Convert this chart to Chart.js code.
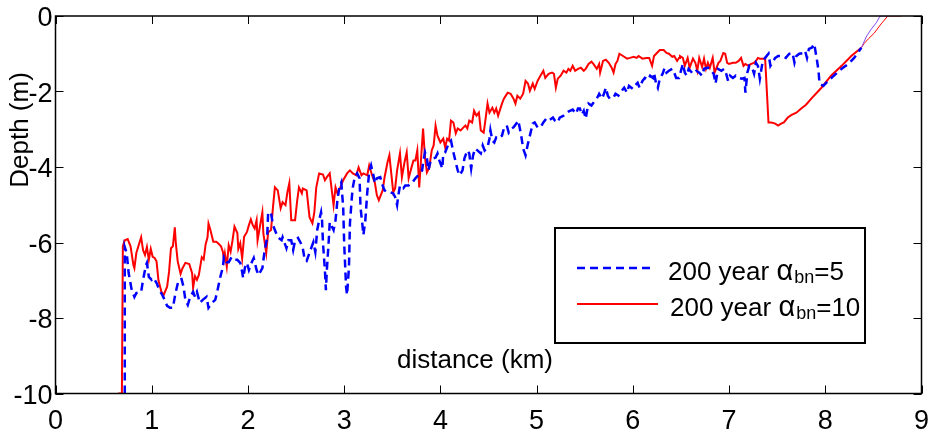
<!DOCTYPE html>
<html>
<head>
<meta charset="utf-8">
<script src="https://cdn.jsdelivr.net/npm/chart.js@4.4.1/dist/chart.umd.min.js"></script>
<style>
  html, body { margin: 0; padding: 0; background: #fff; }
  #wrap { width: 941px; height: 437px; }
</style>
</head>
<body>
<div id="wrap"><canvas id="profile" width="941" height="437"></canvas></div>
<script>
// bed profiles after 200 years, [distance km, depth m]
const redProfile = [[0.65,-10],[0.69,-10],[0.70,-6.1],[0.72,-5.94],[0.75,-5.91],[0.78,-6.1],[0.81,-6.6],[0.82,-6.68],[0.84,-6.28],[0.89,-5.86],[0.91,-6.2],[0.93,-6.33],[0.95,-6.12],[0.97,-6.46],[0.99,-6.17],[1.01,-6.38],[1.03,-6.41],[1.05,-6.5],[1.07,-7.0],[1.10,-7.3],[1.125,-7.39],[1.16,-7.17],[1.18,-6.78],[1.20,-6.15],[1.22,-6.1],[1.24,-5.6],[1.25,-6.0],[1.27,-6.5],[1.30,-6.83],[1.32,-6.68],[1.35,-6.54],[1.39,-6.57],[1.42,-6.81],[1.43,-7.2],[1.45,-6.89],[1.47,-6.99],[1.49,-6.86],[1.52,-6.39],[1.54,-6.45],[1.56,-6.05],[1.58,-5.86],[1.59,-5.5],[1.61,-5.67],[1.64,-5.98],[1.67,-5.98],[1.69,-6.02],[1.72,-6.1],[1.74,-6.25],[1.75,-6.45],[1.76,-6.29],[1.78,-6.64],[1.80,-6.07],[1.82,-6.24],[1.84,-5.94],[1.86,-5.58],[1.89,-5.75],[1.90,-6.17],[1.92,-6.02],[1.94,-6.42],[1.96,-5.85],[1.99,-5.72],[2.01,-5.54],[2.03,-5.39],[2.05,-5.54],[2.07,-5.63],[2.09,-5.41],[2.10,-5.94],[2.15,-5.2],[2.16,-5.75],[2.19,-6.28],[2.21,-5.73],[2.24,-5.67],[2.26,-5.07],[2.28,-4.54],[2.31,-4.62],[2.34,-5.09],[2.36,-4.93],[2.39,-5.01],[2.41,-4.67],[2.43,-4.43],[2.45,-5.41],[2.49,-5.41],[2.51,-4.93],[2.53,-4.54],[2.56,-4.7],[2.57,-4.57],[2.61,-4.62],[2.64,-5.33],[2.67,-5.49],[2.69,-5.2],[2.71,-4.54],[2.74,-4.17],[2.78,-4.2],[2.80,-4.35],[2.82,-4.27],[2.85,-4.17],[2.89,-5.01],[2.91,-4.54],[2.93,-4.7],[2.96,-4.54],[2.99,-4.35],[3.03,-4.17],[3.06,-4.09],[3.09,-4.17],[3.125,-4.22],[3.15,-4.01],[3.18,-4.22],[3.20,-4.17],[3.24,-4.22],[3.26,-3.96],[3.29,-4.22],[3.32,-4.43],[3.34,-4.75],[3.36,-4.88],[3.40,-4.62],[3.42,-4.27],[3.45,-3.88],[3.47,-3.69],[3.51,-4.67],[3.53,-4.56],[3.55,-4.09],[3.58,-3.64],[3.60,-4.27],[3.625,-3.9],[3.65,-3.61],[3.67,-4.3],[3.70,-4.01],[3.72,-3.83],[3.74,-3.83],[3.76,-3.56],[3.78,-4.54],[3.80,-3.75],[3.82,-2.98],[3.84,-3.75],[3.86,-4.14],[3.885,-4.01],[3.91,-3.56],[3.93,-3.43],[3.95,-2.9],[3.97,-3.17],[4.00,-3.35],[4.03,-3.25],[4.05,-3.48],[4.07,-3.25],[4.09,-3.3],[4.11,-2.77],[4.135,-2.82],[4.16,-3.11],[4.18,-2.98],[4.21,-3.03],[4.24,-2.95],[4.26,-2.9],[4.28,-2.98],[4.30,-2.77],[4.33,-2.82],[4.35,-2.51],[4.375,-2.64],[4.40,-2.56],[4.42,-3.03],[4.45,-3.09],[4.47,-2.72],[4.49,-2.32],[4.51,-2.56],[4.54,-2.43],[4.56,-2.56],[4.58,-2.45],[4.60,-2.64],[4.64,-2.32],[4.66,-2.19],[4.68,-2.11],[4.70,-2.03],[4.73,-2.06],[4.76,-2.19],[4.78,-2.32],[4.80,-2.11],[4.83,-2.19],[4.86,-2.06],[4.885,-1.72],[4.91,-1.79],[4.93,-1.98],[4.96,-1.79],[4.98,-1.93],[5.01,-1.72],[5.04,-1.58],[5.07,-1.45],[5.09,-1.64],[5.125,-1.53],[5.16,-1.5],[5.18,-1.53],[5.20,-1.9],[5.22,-1.66],[5.25,-1.58],[5.28,-1.45],[5.31,-1.5],[5.33,-1.4],[5.35,-1.45],[5.375,-1.32],[5.40,-1.45],[5.43,-1.4],[5.46,-1.37],[5.49,-1.45],[5.51,-1.4],[5.54,-1.27],[5.57,-1.21],[5.59,-1.27],[5.625,-1.4],[5.65,-1.27],[5.66,-1.5],[5.69,-1.19],[5.72,-1.16],[5.75,-1.24],[5.78,-1.37],[5.80,-1.5],[5.82,-1.27],[5.84,-1.19],[5.86,-1.0],[5.91,-1.08],[5.94,-1.13],[5.97,-1.11],[6.01,-1.08],[6.04,-1.11],[6.06,-1.06],[6.10,-1.13],[6.14,-1.11],[6.17,-1.11],[6.20,-1.32],[6.22,-1.06],[6.25,-0.98],[6.28,-0.9],[6.32,-0.9],[6.35,-0.98],[6.375,-1.0],[6.41,-1.08],[6.43,-1.06],[6.46,-1.19],[6.48,-1.11],[6.49,-1.06],[6.52,-1.11],[6.54,-1.32],[6.57,-1.11],[6.59,-1.37],[6.625,-1.13],[6.65,-1.24],[6.67,-1.45],[6.69,-1.11],[6.72,-1.35],[6.74,-1.13],[6.76,-1.4],[6.78,-1.24],[6.80,-1.37],[6.83,-1.11],[6.85,-1.5],[6.89,-1.24],[6.91,-1.19],[6.94,-0.98],[6.96,-1.0],[6.98,-1.24],[7.00,-1.27],[7.04,-1.24],[7.07,-1.24],[7.10,-1.19],[7.125,-1.11],[7.15,-1.32],[7.17,-1.27],[7.20,-1.32],[7.23,-1.27],[7.26,-1.24],[7.28,-1.19],[7.30,-1.11],[7.32,-1.13],[7.35,-1.13],[7.375,-1.13],[7.41,-2.82],[7.44,-2.82],[7.48,-2.85],[7.51,-2.9],[7.54,-2.85],[7.57,-2.82],[7.61,-2.69],[7.65,-2.62],[7.70,-2.56],[7.75,-2.45],[7.80,-2.35],[7.85,-2.2],[7.96,-1.9],[8.06,-1.58],[8.17,-1.32],[8.27,-1.06],[8.375,-0.84]];
const redTail = [[8.375,-0.84],[8.40,-0.74],[8.45,-0.6],[8.51,-0.45],[8.58,-0.21],[8.65,0],[8.79,0]];

const blueProfile = [[0.72,-10],[0.72,-6.12],[0.74,-6.28],[0.76,-6.81],[0.79,-7.23],[0.82,-7.44],[0.84,-7.34],[0.89,-7.31],[0.91,-6.99],[0.94,-6.6],[0.95,-6.54],[0.97,-6.91],[1.00,-6.99],[1.02,-6.94],[1.05,-7.07],[1.08,-7.26],[1.11,-7.39],[1.135,-7.52],[1.16,-7.68],[1.19,-7.73],[1.22,-7.73],[1.24,-7.44],[1.26,-7.2],[1.28,-6.99],[1.31,-6.97],[1.33,-7.17],[1.35,-7.52],[1.375,-7.65],[1.40,-7.44],[1.43,-7.31],[1.45,-7.44],[1.47,-7.31],[1.50,-7.6],[1.53,-7.52],[1.57,-7.44],[1.59,-7.73],[1.625,-7.6],[1.66,-7.52],[1.68,-7.31],[1.71,-6.94],[1.74,-6.65],[1.75,-6.39],[1.78,-6.52],[1.80,-6.52],[1.83,-6.39],[1.86,-6.46],[1.89,-6.46],[1.92,-6.54],[1.94,-6.78],[1.95,-6.94],[1.97,-6.65],[1.99,-6.54],[2.01,-6.73],[2.04,-6.52],[2.06,-6.41],[2.09,-6.73],[2.11,-6.86],[2.15,-6.68],[2.17,-6.28],[2.20,-5.86],[2.21,-5.2],[2.24,-5.22],[2.26,-5.54],[2.28,-5.67],[2.31,-5.86],[2.35,-5.94],[2.36,-5.86],[2.40,-6.15],[2.42,-5.94],[2.45,-5.94],[2.47,-6.2],[2.49,-5.94],[2.52,-5.88],[2.55,-6.02],[2.57,-6.15],[2.59,-6.46],[2.61,-6.49],[2.65,-6.2],[2.68,-5.99],[2.70,-6.25],[2.72,-5.67],[2.74,-5.41],[2.76,-5.2],[2.77,-5.41],[2.78,-6.02],[2.80,-6.73],[2.81,-7.26],[2.82,-6.73],[2.84,-5.94],[2.85,-5.46],[2.89,-5.67],[2.91,-5.41],[2.93,-4.88],[2.95,-4.54],[2.97,-4.41],[2.99,-5.07],[3.00,-6.02],[3.02,-7.18],[3.03,-7.39],[3.05,-6.65],[3.06,-5.49],[3.08,-4.8],[3.09,-4.54],[3.11,-4.27],[3.135,-4.17],[3.16,-4.3],[3.17,-5.07],[3.19,-5.54],[3.20,-5.8],[3.22,-5.41],[3.24,-4.67],[3.26,-4.14],[3.28,-3.96],[3.30,-4.17],[3.32,-4.43],[3.34,-4.3],[3.375,-4.27],[3.40,-4.49],[3.42,-4.62],[3.45,-4.67],[3.48,-4.67],[3.51,-4.7],[3.53,-4.8],[3.55,-5.01],[3.56,-4.8],[3.58,-4.49],[3.615,-4.56],[3.635,-4.49],[3.67,-4.49],[3.71,-4.41],[3.74,-4.3],[3.77,-4.22],[3.81,-4.09],[3.82,-3.9],[3.84,-3.61],[3.86,-3.77],[3.875,-4.09],[3.90,-3.83],[3.93,-3.77],[3.95,-3.75],[3.97,-3.64],[3.99,-3.83],[4.02,-4.04],[4.03,-3.64],[4.05,-3.61],[4.07,-3.48],[4.09,-3.35],[4.11,-3.3],[4.135,-3.61],[4.16,-3.88],[4.18,-4.09],[4.20,-4.22],[4.23,-4.09],[4.25,-3.77],[4.28,-3.56],[4.30,-3.64],[4.32,-4.04],[4.34,-3.69],[4.36,-3.51],[4.385,-3.56],[4.42,-3.64],[4.44,-3.43],[4.46,-3.56],[4.49,-3.48],[4.51,-3.25],[4.52,-3.03],[4.54,-3.3],[4.56,-3.35],[4.58,-3.22],[4.60,-3.25],[4.64,-3.17],[4.66,-2.98],[4.69,-2.9],[4.71,-3.09],[4.74,-2.98],[4.76,-2.95],[4.79,-2.85],[4.81,-2.77],[4.84,-3.17],[4.86,-3.51],[4.885,-3.69],[4.91,-3.38],[4.93,-3.17],[4.96,-2.85],[4.98,-2.82],[5.01,-2.95],[5.04,-2.95],[5.07,-2.82],[5.10,-2.72],[5.125,-2.77],[5.17,-2.69],[5.19,-2.77],[5.22,-2.82],[5.24,-2.69],[5.28,-2.64],[5.31,-2.56],[5.33,-2.53],[5.375,-2.48],[5.41,-2.59],[5.43,-2.45],[5.45,-2.45],[5.47,-2.61],[5.49,-2.51],[5.51,-2.72],[5.53,-2.43],[5.54,-2.32],[5.57,-2.37],[5.59,-2.3],[5.625,-2.19],[5.65,-2.06],[5.68,-2.19],[5.70,-2.06],[5.72,-1.9],[5.74,-2.11],[5.76,-2.19],[5.80,-2.16],[5.82,-2.06],[5.85,-2.11],[5.885,-1.98],[5.91,-1.9],[5.94,-2.03],[5.96,-1.85],[6.00,-1.93],[6.02,-1.85],[6.05,-1.77],[6.07,-1.9],[6.10,-1.72],[6.125,-1.64],[6.16,-1.69],[6.18,-1.58],[6.21,-1.64],[6.22,-1.5],[6.24,-1.77],[6.26,-1.9],[6.28,-1.66],[6.31,-1.53],[6.33,-1.37],[6.35,-1.5],[6.375,-1.45],[6.41,-1.4],[6.43,-1.5],[6.45,-1.64],[6.48,-1.64],[6.52,-1.27],[6.54,-1.5],[6.56,-1.58],[6.58,-1.4],[6.625,-1.53],[6.66,-1.45],[6.69,-1.5],[6.72,-1.58],[6.74,-1.4],[6.78,-1.37],[6.80,-1.4],[6.84,-1.53],[6.86,-1.79],[6.885,-1.4],[6.92,-1.45],[6.95,-1.4],[6.97,-1.53],[6.99,-1.72],[7.01,-1.58],[7.04,-1.64],[7.07,-1.58],[7.10,-1.64],[7.135,-1.66],[7.16,-1.64],[7.17,-2.03],[7.19,-1.5],[7.21,-1.32],[7.24,-1.37],[7.26,-1.53],[7.28,-1.24],[7.30,-1.32],[7.32,-1.66],[7.35,-1.19],[7.375,-1.11],[7.41,-1.0],[7.43,-1.32],[7.46,-1.19],[7.48,-1.11],[7.51,-1.06],[7.56,-1.06],[7.59,-1.11],[7.625,-1.0],[7.66,-0.98],[7.68,-1.24],[7.70,-1.06],[7.73,-1.0],[7.77,-0.98],[7.79,-0.92],[7.81,-1.11],[7.83,-0.87],[7.86,-0.84],[7.885,-0.74],[7.91,-1.11],[7.93,-1.45],[7.94,-1.79],[7.98,-1.85],[8.03,-1.72],[8.09,-1.58],[8.17,-1.4],[8.24,-1.27],[8.30,-1.11],[8.375,-0.84]];
const blueTail = [[8.375,-0.84],[8.43,-0.53],[8.48,-0.34],[8.53,-0.18],[8.57,0],[8.66,0]];

const seriesNames = [['200 year ', 'α', 'bn', '=5'], ['200 year ', 'α', 'bn', '=10']];
const xTickLabels = ['0', '1', '2', '3', '4', '5', '6', '7', '8', '9'];
const yTickLabels = ['-10', '-8', '-6', '-4', '-2', '0'];
const xTitle = 'distance (km)';
const yTitle = 'Depth (m)';

const FONT = '"Liberation Sans", Arial, Helvetica, sans-serif';
const toPoints = rows => rows.map(r => ({ x: r[0], y: r[1] }));

// matlab-like box with inward ticks, axis titles and the legend
const decorations = {
  id: 'decorations',
  afterDatasetsDraw(chart) {
    const ctx = chart.ctx;
    const a = chart.chartArea;
    const xs = chart.scales.x, ys = chart.scales.y;
    ctx.save();
    ctx.strokeStyle = '#000';
    ctx.lineWidth = 1.5;
    ctx.strokeRect(a.left, a.top, a.right - a.left, a.bottom - a.top);
    ctx.lineWidth = 1;
    ctx.beginPath();
    xs.ticks.forEach(t => {
      const px = Math.round(xs.getPixelForValue(t.value)) + 0.5;
      ctx.moveTo(px, a.bottom); ctx.lineTo(px, a.bottom - 8);
      ctx.moveTo(px, a.top); ctx.lineTo(px, a.top + 8);
    });
    ys.ticks.forEach(t => {
      const py = Math.round(ys.getPixelForValue(t.value)) + 0.5;
      ctx.moveTo(a.left, py); ctx.lineTo(a.left + 8, py);
      ctx.moveTo(a.right, py); ctx.lineTo(a.right - 8, py);
    });
    ctx.stroke();

    // axis titles
    ctx.fillStyle = '#000';
    ctx.font = '26px ' + FONT;
    ctx.textAlign = 'center';
    ctx.textBaseline = 'alphabetic';
    ctx.fillText(xTitle, 475, 368);
    ctx.save();
    ctx.translate(28, 130);
    ctx.rotate(-Math.PI / 2);
    ctx.fillText(yTitle, 0, 0);
    ctx.restore();

    // legend
    ctx.lineWidth = 2;
    ctx.strokeRect(555, 228, 310, 115);
    const rows = [
      { ds: chart.data.datasets[0], y: 268, x1: 653, tx: 668 },
      { ds: chart.data.datasets[1], y: 304, x1: 658, tx: 670 }
    ];
    rows.forEach((r, i) => {
      ctx.strokeStyle = r.ds.borderColor;
      ctx.lineWidth = r.ds.borderWidth;
      ctx.setLineDash(r.ds.borderDash || []);
      ctx.beginPath();
      ctx.moveTo(577, r.y); ctx.lineTo(r.x1, r.y);
      ctx.stroke();
      ctx.setLineDash([]);
      const parts = seriesNames[i];
      const base = r.y + 12;
      const fonts = ['26px ', '29px ', '18px ', '26px '];
      const lift = [0, 0, 3, 0];
      let x = r.tx;
      ctx.textAlign = 'left';
      parts.forEach((p, k) => {
        ctx.font = fonts[k] + FONT;
        ctx.fillText(p, x, base + lift[k]);
        x += ctx.measureText(p).width + (k === 1 ? 1 : 0);
      });
    });
    ctx.restore();
  }
};

new Chart(document.getElementById('profile'), {
  type: 'line',
  data: {
    datasets: [
      { data: toPoints(blueProfile), borderColor: '#0000ff', borderWidth: 2.5, borderDash: [8, 5], order: 0 },
      { data: toPoints(redProfile), borderColor: '#ff0000', borderWidth: 2, order: 1 },
      { data: toPoints(blueTail), borderColor: '#8a4cf0', borderWidth: 1, order: 2 },
      { data: toPoints(redTail), borderColor: '#ff0000', borderWidth: 1, order: 3 }
    ]
  },
  options: {
    responsive: false,
    devicePixelRatio: 1,
    animation: false,
    events: [],
    elements: { point: { radius: 0 }, line: { tension: 0, fill: false } },
    layout: { padding: { top: 16, right: 19.5, left: 0, bottom: 0 } },
    plugins: { legend: { display: false }, tooltip: { enabled: false } },
    scales: {
      x: {
        type: 'linear', min: 0, max: 9,
        grid: { display: false, drawTicks: false },
        border: { display: false },
        ticks: {
          stepSize: 1, maxRotation: 0, autoSkip: false, padding: 12,
          color: '#000', font: { family: FONT, size: 27 },
          callback: (v, i) => xTickLabels[i]
        },
        afterFit(s) { s.height = 43.5; s.paddingLeft = 0; s.paddingRight = 0; }
      },
      y: {
        type: 'linear', min: -10, max: 0,
        grid: { display: false, drawTicks: false },
        border: { display: false },
        ticks: {
          stepSize: 2, padding: 3, labelOffset: 3,
          color: '#000', font: { family: FONT, size: 27 },
          callback: (v, i) => yTickLabels[i]
        },
        afterFit(s) { s.width = 55.5; s.paddingTop = 0; s.paddingBottom = 0; }
      }
    }
  },
  plugins: [decorations]
});
</script>
</body>
</html>
